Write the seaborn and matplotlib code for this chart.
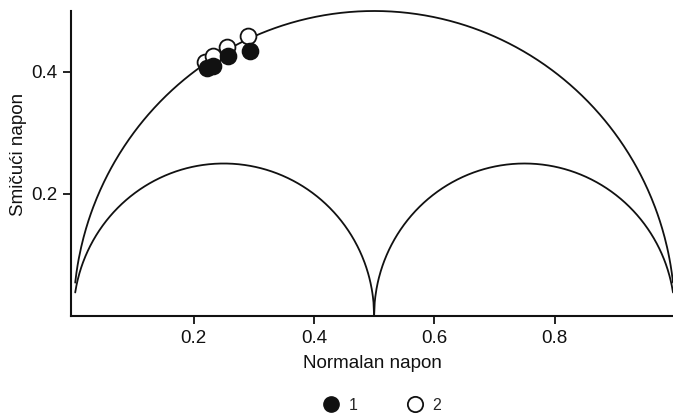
import numpy as np
import pandas as pd
import matplotlib
matplotlib.use('Agg')
import matplotlib.pyplot as plt
import seaborn as sns

# Mohr circles (center, radius)
circle_centers = [0.5, 0.25, 0.75]
circle_radii = [0.5, 0.25, 0.25]

# measured points
x_1 = [0.222, 0.232, 0.257, 0.294]
y_1 = [0.406, 0.410, 0.426, 0.434]
x_2 = [0.218, 0.232, 0.255, 0.291]
y_2 = [0.417, 0.426, 0.441, 0.459]

sns.set_style('ticks')
plt.rcParams['font.family'] = ['Liberation Sans', 'DejaVu Sans']
ink = '#111111'

fig = plt.figure(figsize=(6.73, 4.17), dpi=100)
ax = fig.add_axes([71/673, 1-316/417, 1-71/673, (316-11)/417])

for c, r in zip(circle_centers, circle_radii):
    lo = c - r + (0.003 if c - r < 0.01 else 0)
    hi = c + r - (0.003 if c + r > 0.99 else 0)
    xs = np.linspace(lo, hi, 500)
    ys = np.sqrt(np.clip(r**2 - (xs - c)**2, 0, None))
    ax.plot(xs, ys, color=ink, lw=1.3, zorder=1, clip_on=False)

df = pd.DataFrame({'x': x_2 + x_1, 'y': y_2 + y_1, 'grp': ['2'] * 4 + ['1'] * 4})
sns.scatterplot(data=df[df.grp == '2'], x='x', y='y', ax=ax, s=130, color='white',
                edgecolor=ink, linewidth=1.3, zorder=3, legend=False)
sns.scatterplot(data=df[df.grp == '1'], x='x', y='y', ax=ax, s=130, color=ink,
                edgecolor=ink, linewidth=1.3, zorder=4, legend=False)

ax.set_xlim(-0.004, 0.997)
ax.set_ylim(0, 0.5)
ax.set_xticks([0.2, 0.4, 0.6, 0.8])
ax.set_yticks([0.2, 0.4])
ax.set_xticklabels(['0.2', '0.4', '0.6', '0.8'])
ax.set_yticklabels(['0.2', '0.4'])
ax.tick_params(direction='out', length=6, width=1.3, labelsize=13.5, colors=ink, pad=4)
for s in ['left', 'bottom']:
    ax.spines[s].set_linewidth(1.5)
    ax.spines[s].set_color(ink)
sns.despine(ax=ax)
ax.set_xlabel('Normalan napon', fontsize=13.5, color=ink, labelpad=6)
ax.set_ylabel('Smičući napon', fontsize=13.5, color=ink)
ax.yaxis.set_label_coords(-0.073, 0.53)

h1 = plt.Line2D([], [], ls='', marker='o', ms=11, mfc=ink, mec=ink)
h2 = plt.Line2D([], [], ls='', marker='o', ms=11, mfc='white', mec=ink, mew=1.3)
fig.legend([h1, h2], ['1', '2'], loc='center', bbox_to_anchor=(378/673, 1-405/417),
           ncol=2, frameon=False, fontsize=11.5, handletextpad=0.1, columnspacing=2.6)

fig.savefig('out.png', dpi=100)
